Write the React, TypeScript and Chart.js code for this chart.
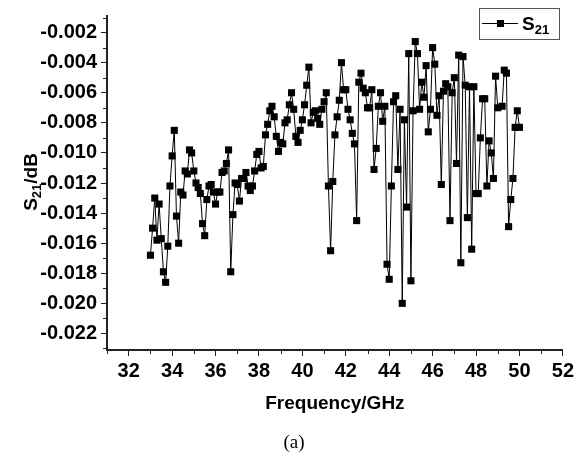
import React, { useEffect, useRef } from 'react';
import { Chart, registerables } from 'chart.js';

Chart.register(...registerables);

const frequency = [
  33.0, 33.1, 33.2, 33.3, 33.4, 33.5, 33.6, 33.7, 33.8, 33.9,
  34.0, 34.1, 34.2, 34.3, 34.4, 34.5, 34.6, 34.7, 34.8, 34.9,
  35.0, 35.1, 35.2, 35.3, 35.4, 35.5, 35.6, 35.7, 35.8, 35.9,
  36.0, 36.1, 36.2, 36.3, 36.4, 36.5, 36.6, 36.7, 36.8, 36.9,
  37.0, 37.1, 37.2, 37.3, 37.4, 37.5, 37.6, 37.7, 37.8, 37.9,
  38.0, 38.1, 38.2, 38.3, 38.4, 38.5, 38.6, 38.7, 38.8, 38.9,
  39.0, 39.1, 39.2, 39.3, 39.4, 39.5, 39.6, 39.7, 39.8, 39.9,
  40.0, 40.1, 40.2, 40.3, 40.4, 40.5, 40.6, 40.7, 40.8, 40.9,
  41.0, 41.1, 41.2, 41.3, 41.4, 41.5, 41.6, 41.7, 41.8, 41.9,
  42.0, 42.1, 42.2, 42.3, 42.4, 42.5, 42.6, 42.7, 42.8, 42.9,
  43.0, 43.1, 43.2, 43.3, 43.4, 43.5, 43.6, 43.7, 43.8, 43.9,
  44.0, 44.1, 44.2, 44.3, 44.4, 44.5, 44.6, 44.7, 44.8, 44.9,
  45.0, 45.1, 45.2, 45.3, 45.4, 45.5, 45.6, 45.7, 45.8, 45.9,
  46.0, 46.1, 46.2, 46.3, 46.4, 46.5, 46.6, 46.7, 46.8, 46.9,
  47.0, 47.1, 47.2, 47.3, 47.4, 47.5, 47.6, 47.7, 47.8, 47.9,
  48.0, 48.1, 48.2, 48.3, 48.4, 48.5, 48.6, 48.7, 48.8, 48.9,
  49.0, 49.2, 49.3, 49.4, 49.5, 49.6, 49.7, 49.8, 49.9, 50.0,
];

const s21 = [
  -0.0168, -0.0150, -0.0130, -0.0158, -0.0134, -0.0157, -0.0179, -0.0186, -0.0162, -0.0122,
  -0.0102, -0.0085, -0.0142, -0.0160, -0.0126, -0.0128, -0.0112, -0.0114, -0.0098, -0.0100,
  -0.0112, -0.0120, -0.0123, -0.0127, -0.0147, -0.0155, -0.0131, -0.0122, -0.0121, -0.0126,
  -0.0134, -0.0126, -0.0126, -0.0113, -0.0112, -0.0107, -0.0098, -0.0179, -0.0141, -0.0120,
  -0.0121, -0.0132, -0.0117, -0.0117, -0.0113, -0.0122, -0.0125, -0.0122, -0.0112, -0.0101,
  -0.0099, -0.0110, -0.0109, -0.0088, -0.0081, -0.0072, -0.0069, -0.0076, -0.0089, -0.0099,
  -0.0093, -0.0094, -0.0080, -0.0078, -0.0068, -0.0060, -0.0071, -0.0089, -0.0093, -0.0085,
  -0.0078, -0.0068, -0.0055, -0.0043, -0.0080, -0.0073, -0.0072, -0.0077, -0.0081, -0.0071,
  -0.0066, -0.0060, -0.0122, -0.0165, -0.0119, -0.0088, -0.0076, -0.0065, -0.0040, -0.0058,
  -0.0058, -0.0071, -0.0078, -0.0087, -0.0094, -0.0145, -0.0053, -0.0047, -0.0057, -0.0060,
  -0.0070, -0.0070, -0.0058, -0.0111, -0.0097, -0.0069, -0.0060, -0.0079, -0.0069, -0.0174,
  -0.0184, -0.0122, -0.0066, -0.0062, -0.0111, -0.0071, -0.0200, -0.0078, -0.0136, -0.0034,
  -0.0185, -0.0072, -0.0026, -0.0034, -0.0071, -0.0053, -0.0063, -0.0042, -0.0086, -0.0071,
  -0.0030, -0.0041, -0.0075, -0.0062, -0.0121, -0.0059, -0.0054, -0.0056, -0.0145, -0.0060,
  -0.0050, -0.0107, -0.0035, -0.0173, -0.0036, -0.0055, -0.0143, -0.0056, -0.0164, -0.0056,
  -0.0127, -0.0127, -0.0090, -0.0064, -0.0064, -0.0122, -0.0092, -0.0100, -0.0117, -0.0049,
  -0.0070, -0.0069, -0.0045, -0.0047, -0.0149, -0.0131, -0.0117, -0.0083, -0.0072, -0.0083,
];

const xTickValues = [32, 34, 36, 38, 40, 42, 44, 46, 48, 50, 52];
const xMinorTicks = [31, 33, 35, 37, 39, 41, 43, 45, 47, 49, 51];
const yTickValues = [-0.002, -0.004, -0.006, -0.008, -0.010, -0.012, -0.014, -0.016, -0.018, -0.020, -0.022];
const yMinorTicks = [-0.001, -0.003, -0.005, -0.007, -0.009, -0.011, -0.013, -0.015, -0.017, -0.019, -0.021, -0.023];

const SANS = '"Liberation Sans", Arial, sans-serif';
const SERIF = '"Liberation Serif", "Times New Roman", serif';
const AXIS = '#222';

const decorPlugin = {
  id: 'decor',
  afterDraw(chart: any) {
    const ctx = chart.ctx as CanvasRenderingContext2D;
    const xs = chart.scales.x;
    const ys = chart.scales.y;
    const { left, right, bottom } = chart.chartArea;
    ctx.save();
    ctx.strokeStyle = AXIS;
    ctx.lineWidth = 1;
    xMinorTicks.forEach((v) => {
      const px = Math.round(xs.getPixelForValue(v)) + 0.5;
      ctx.beginPath();
      ctx.moveTo(px, bottom);
      ctx.lineTo(px, bottom + 4);
      ctx.stroke();
    });
    yMinorTicks.forEach((v) => {
      if (v < ys.min || v > ys.max) return;
      const py = Math.round(ys.getPixelForValue(v)) + 0.5;
      ctx.beginPath();
      ctx.moveTo(left, py);
      ctx.lineTo(left - 4, py);
      ctx.stroke();
    });

    const big = `bold 19px ${SANS}`;
    const small = `bold 13px ${SANS}`;

    // x title
    ctx.fillStyle = '#000';
    ctx.font = big;
    ctx.textAlign = 'center';
    ctx.textBaseline = 'alphabetic';
    ctx.fillText('Frequency/GHz', (left + right) / 2, 409);

    // caption
    ctx.font = `19px ${SERIF}`;
    ctx.fillText('(a)', 294, 448);

    // y title
    ctx.save();
    ctx.translate(37, 182);
    ctx.rotate(-Math.PI / 2);
    ctx.font = big;
    const wS = ctx.measureText('S').width;
    const wRest = ctx.measureText('/dB').width;
    ctx.font = small;
    const w21 = ctx.measureText('21').width;
    const x0 = -(wS + w21 + wRest) / 2;
    ctx.textAlign = 'left';
    ctx.font = big;
    ctx.fillText('S', x0, 0);
    ctx.font = small;
    ctx.fillText('21', x0 + wS, 4);
    ctx.font = big;
    ctx.fillText('/dB', x0 + wS + w21, 0);
    ctx.restore();

    // legend
    ctx.strokeStyle = '#555';
    ctx.lineWidth = 1;
    ctx.strokeRect(479.5, 8.5, 80, 31);
    ctx.strokeStyle = '#000';
    ctx.beginPath();
    ctx.moveTo(482, 23.5);
    ctx.lineTo(518, 23.5);
    ctx.stroke();
    ctx.fillStyle = '#000';
    ctx.fillRect(497, 20, 7, 7);
    ctx.textAlign = 'left';
    ctx.font = big;
    ctx.fillText('S', 522, 30);
    const wS2 = ctx.measureText('S').width;
    ctx.font = small;
    ctx.fillText('21', 522 + wS2, 34);
    ctx.restore();
  },
};

export default function App() {
  const ref = useRef<HTMLCanvasElement | null>(null);

  useEffect(() => {
    document.body.style.margin = '0';
    const canvas = ref.current;
    if (!canvas) return;
    const chart = new Chart(canvas, {
      type: 'line',
      data: {
        datasets: [
          {
            label: 'S21',
            data: frequency.map((f, i) => ({ x: f, y: s21[i] })),
            borderColor: '#000',
            borderWidth: 1,
            pointStyle: 'rect',
            pointRadius: 5,
            pointBackgroundColor: '#000',
            pointBorderColor: '#000',
            pointBorderWidth: 0,
            tension: 0,
            fill: false,
          },
        ],
      },
      options: {
        responsive: false,
        animation: false,
        devicePixelRatio: 1,
        layout: { padding: { left: 0, top: 7, right: 12, bottom: 0 } },
        plugins: { legend: { display: false }, tooltip: { enabled: false } },
        scales: {
          x: {
            type: 'linear',
            min: 31,
            max: 52,
            afterBuildTicks: (s: any) => {
              s.ticks = xTickValues.map((v) => ({ value: v }));
            },
            afterFit: (s: any) => {
              s.height = 103;
            },
            grid: { drawOnChartArea: false, drawTicks: true, tickLength: 6, color: AXIS, lineWidth: 1 },
            border: { display: true, color: AXIS, width: 2 },
            ticks: {
              color: '#000',
              font: { family: SANS, size: 20, weight: 'bold' },
              padding: 3,
              maxRotation: 0,
              autoSkip: false,
              callback: (v: any) => String(v),
            },
          },
          y: {
            type: 'linear',
            min: -0.0231,
            max: -0.0009,
            afterBuildTicks: (s: any) => {
              s.ticks = yTickValues.map((v) => ({ value: v }));
            },
            afterFit: (s: any) => {
              s.width = 107;
            },
            grid: { drawOnChartArea: false, drawTicks: true, tickLength: 6, color: AXIS, lineWidth: 1 },
            border: { display: true, color: AXIS, width: 2 },
            ticks: {
              color: '#000',
              font: { family: SANS, size: 20, weight: 'bold' },
              padding: 4,
              autoSkip: false,
              callback: (v: any) => Number(v).toFixed(3),
            },
          },
        },
      },
      plugins: [decorPlugin],
    } as any);
    return () => chart.destroy();
  }, []);

  return <canvas ref={ref} width={577} height={453} style={{ display: 'block' }} />;
}
